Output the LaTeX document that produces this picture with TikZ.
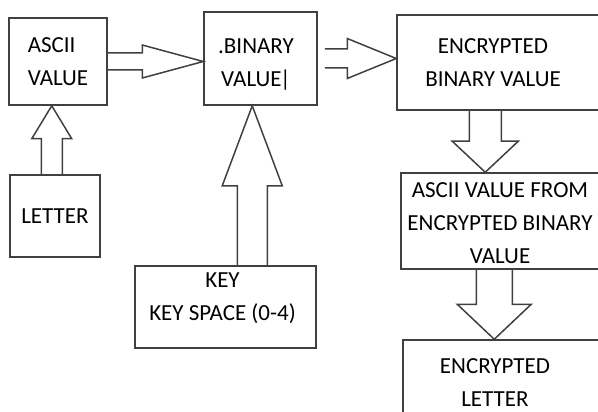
\documentclass[tikz,border=0pt]{standalone}
\usepackage{fontspec}
\setmainfont{Carlito}
\usetikzlibrary{calc}
\tikzstyle{block} = [draw=black!75, rectangle, line width=1.5pt, align=center, text=black]
\tikzstyle{lbl} = [align=center, text=black]
\tikzstyle{fat} = [draw=black!75, line width=1.5pt]

% hollow block arrow: start, tip, shaft half width, head half width, head length
\newcommand{\blockarrow}[5]{%
  \coordinate (ba-s) at (#1);
  \coordinate (ba-e) at (#2);
  \coordinate (ba-h) at ($(ba-e)!#5!(ba-s)$);
  \draw[fat] ($(ba-s)!#3!90:(ba-e)$) -- ($(ba-h)!#3!90:(ba-e)$) -- ($(ba-h)!#4!90:(ba-e)$)
    -- (ba-e) -- ($(ba-h)!#4!-90:(ba-e)$) -- ($(ba-h)!#3!-90:(ba-e)$) -- ($(ba-s)!#3!-90:(ba-e)$);
}

\begin{document}
\begin{tikzpicture}[x=1pt, y=-1pt] \fontsize{23}{33}\selectfont
    \clip[use as bounding box] (0,0) rectangle (598,412);

    % top row
    \node at (58,61.5) [block, align=left, minimum width=98, minimum height=87] (ascii) {ASCII\\VALUE};
    \node at (260.5,58.5) [block, minimum width=113, minimum height=93,
        label={[lbl, xshift=-4.5, yshift=-6.5]center:{.BINARY\\VALUE\kern-1.5pt|}}] (binary) {};
    \node at (508.5,62.5) [block, minimum width=223, minimum height=95,
        label={[lbl, xshift=-15.5]center:{ENCRYPTED\\BINARY VALUE}}] (encbin) {};

    % inputs
    \node at (55,216) [block, minimum width=90, minimum height=82] (letter) {LETTER};
    \node at (225.5,307) [block, minimum width=181, minimum height=82,
        label={[lbl, xshift=-3, yshift=8.5]center:{KEY\\KEY SPACE (0-4)}}] (key) {};

    % right column, runs off the page
    \node at (510.5,221) [block, minimum width=219, minimum height=96,
        label={[lbl, xshift=-10.5, yshift=-2]center:{ASCII VALUE FROM\\ENCRYPTED BINARY\\VALUE}}] (ascii2) {};
    \node at (511.5,405) [block, minimum width=217, minimum height=130,
        label={[lbl, xshift=-16.5, yshift=22]center:{ENCRYPTED\\LETTER}}] (enclet) {};

    \blockarrow{ascii.east}{ascii.east -| binary.west}{8.5pt}{16.5pt}{61pt}
    \blockarrow{$(binary.east)+(7,0)$}{binary.east -| encbin.west}{9.5pt}{20pt}{49pt}
    \blockarrow{$(encbin.south west)+(89,0)$}{$(ascii2.north west)+(85,0)$}{16pt}{33pt}{31pt}
    \blockarrow{$(ascii2.south west)+(94,0)$}{$(enclet.north west)+(92,0)$}{18pt}{37pt}{35pt}
    \blockarrow{$(letter.north west)+(42.5,0)$}{$(ascii.south west)+(43.5,0)$}{10.5pt}{20pt}{33pt}
    \blockarrow{$(key.north west)+(118,0)$}{$(binary.south west)+(49,0)$}{15pt}{30pt}{80pt}
\end{tikzpicture}
\end{document}
